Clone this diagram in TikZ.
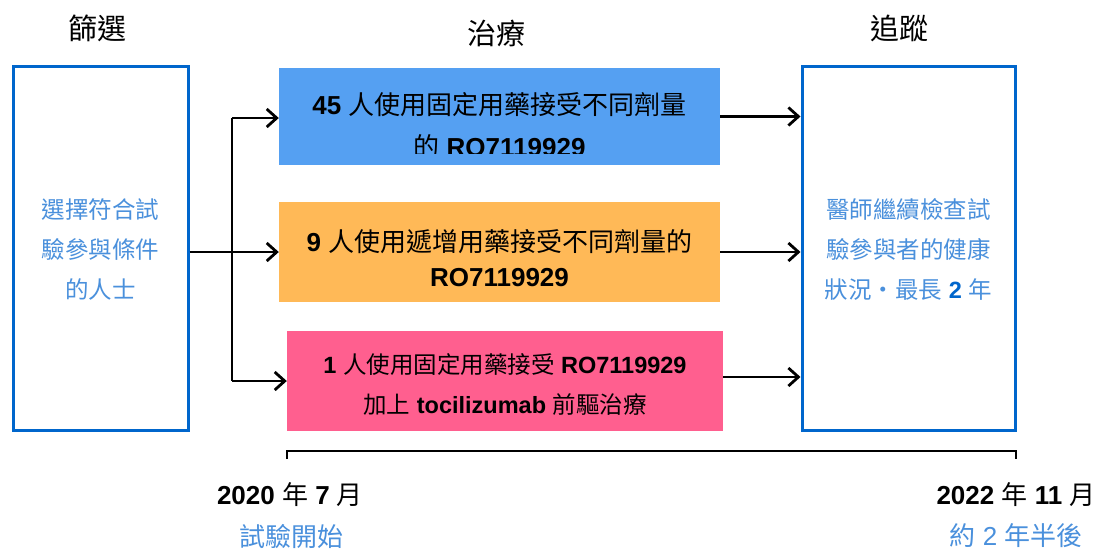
\documentclass[tikz,border=0pt]{standalone}
\usepackage{fontspec}
\setmainfont{Liberation Sans}
\newfontfamily\cjk{Noto Sans CJK TC}
\usetikzlibrary{arrows.meta}
\definecolor{bordblue}{HTML}{0066CC}
\definecolor{txtblue}{HTML}{4A90DC}
\definecolor{boxblue}{HTML}{55A0F2}
\definecolor{boxorange}{HTML}{FFB957}
\definecolor{boxpink}{HTML}{FF5F8F}
\begin{document}
\begin{tikzpicture}[x=1pt,y=-1pt,
  outerbox/.style={draw=bordblue, line width=3pt, fill=white, inner sep=0pt,
                   minimum width=#1, minimum height=364pt},
  colbox/.style={fill=#1, draw=none, inner sep=0pt},
  title/.style={inner sep=0pt, font=\fontsize{29}{31}\selectfont\cjk},
  boxtxt/.style={align=center, inner sep=0pt, font=\fontsize{26}{#1}\selectfont},
  sidetxt/.style={align=center, inner sep=0pt, text=txtblue, font=\fontsize{23.5}{40}\selectfont},
  datetxt/.style={inner sep=0pt, font=\fontsize{26}{30}\selectfont},
  line/.style={line width=2.8pt, black},
  arr/.style={line width=2.8pt, black, -{Straight Barb[length=10pt,width=18pt]}},
]
\useasboundingbox (0,0) rectangle (1102,550);

% titles
\node[title] (t1) at (97,28) {篩選};
\node[title] (t2) at (496,33) {治療};
\node[title] (t3) at (899,28) {追蹤};

% outer boxes
\node[outerbox=175pt] (scr) at (100.5,248) {};
\node[sidetxt] (scrt) at (100.5,249) {{\cjk 選擇符合試}\\{\cjk 驗參與條件}\\{\cjk 的人士}};
\node[outerbox=213pt] (fol) at (908.5,248) {};
\node[sidetxt] (folt) at (908.5,249) {{\cjk 醫師繼續檢查試}\\{\cjk 驗參與者的健康}\\{\cjk 狀況‧最長} \textcolor{bordblue}{\textbf{2}} {\cjk 年}};

% treatment boxes
\node[colbox=boxblue, minimum width=441pt, minimum height=97pt] (b1) at (499.5,116.5) {};
\begin{scope}
  \clip (279,60) rectangle (720,153);
  \node[boxtxt=42] (b1t) at (499.5,125) {\textbf{45} {\cjk 人使用固定用藥接受不同劑量}\\{\cjk 的} \textbf{RO7119929}};
\end{scope}
\node[colbox=boxorange, minimum width=441pt, minimum height=100pt] (b2) at (499.5,252) {};
\node[boxtxt=35] (b2t) at (499.5,258.5) {\textbf{9} {\cjk 人使用遞增用藥接受不同劑量的}\\\textbf{RO7119929}};
\node[colbox=boxpink, minimum width=436pt, minimum height=100pt] (b3) at (505,381) {};
\node[boxtxt=40, font=\fontsize{23.5}{40}\selectfont] (b3t) at (505,385) {\textbf{1} {\cjk 人使用固定用藥接受} \textbf{RO7119929}\\{\cjk 加上} \textbf{tocilizumab} {\cjk 前驅治療}};

% connectors left
\coordinate (jt) at (232,118);
\coordinate (jb) at (232,381);
\draw[line] (jt) -- (jb);
\draw[arr] (scr.east |- b2.west) -- (b2.west);
\draw[arr] (jt) -- (jt -| b1.west);
\draw[arr] (jb) -- (jb -| b3.west);

% connectors right
\draw[arr] (b1.east) -- (b1.east -| fol.west);
\draw[arr] (b2.east) -- (b2.east -| fol.west);
\draw[arr] ([yshift=4pt]b3.east) -- ([yshift=4pt]b3.east -| fol.west);

% timeline bracket
\coordinate (k1) at (287,459);
\coordinate (k2) at (287,451);
\coordinate (k3) at (1016,451);
\coordinate (k4) at (1016,459);
\draw[line, line width=2.8pt, line join=miter] (k1) -- (k2) -- (k3) -- (k4);

% dates
\node[datetxt] (d1) at (290,495) {\textbf{2020} {\cjk 年} \textbf{7} {\cjk 月}};
\node[datetxt, text=txtblue] (d1s) at (291,536) {\cjk 試驗開始};
\node[datetxt] (d2) at (1016,495) {\textbf{2022} {\cjk 年} \textbf{11} {\cjk 月}};
\node[datetxt, text=txtblue] (d2s) at (1016,536) {{\cjk 約} 2 {\cjk 年半後}};
\end{tikzpicture}
\end{document}
